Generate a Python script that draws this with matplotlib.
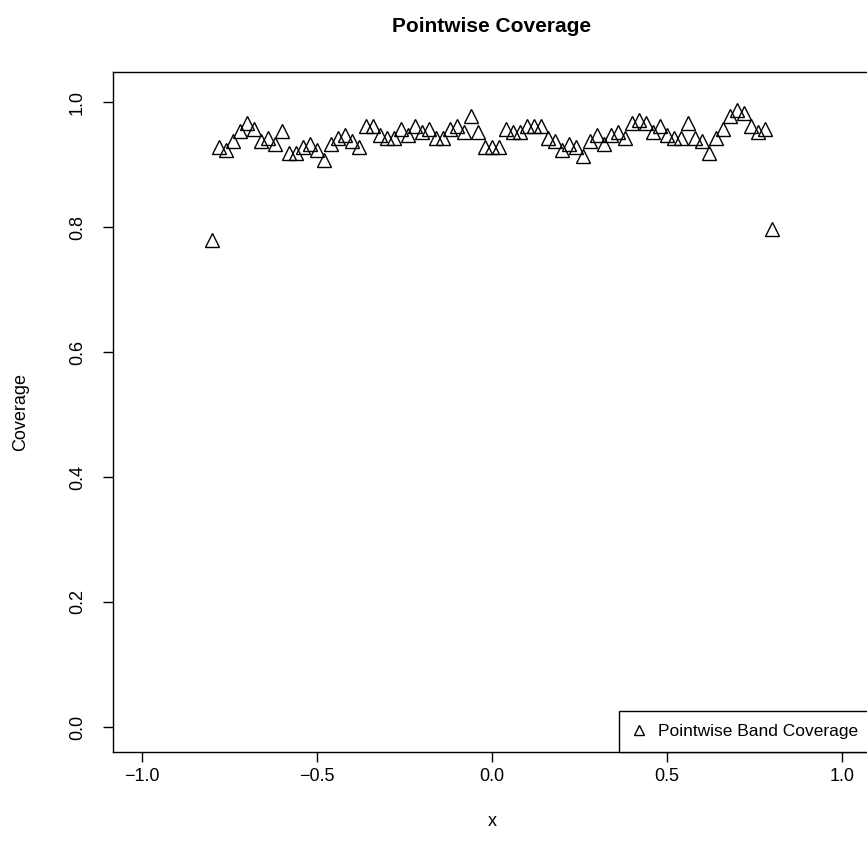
import numpy as np
import matplotlib
matplotlib.use("Agg")
import matplotlib.pyplot as plt

plt.rcParams["font.family"] = ["Liberation Sans", "DejaVu Sans"]

coverage = [
    0.780, 0.928, 0.923, 0.938, 0.953, 0.967, 0.957, 0.938, 0.943, 0.933,
    0.953, 0.918, 0.918, 0.928, 0.933, 0.923, 0.908, 0.933, 0.943, 0.948,
    0.938, 0.928, 0.962, 0.962, 0.948, 0.943, 0.943, 0.957, 0.948, 0.962,
    0.952, 0.957, 0.943, 0.943, 0.957, 0.962, 0.952, 0.977, 0.952, 0.928,
    0.928, 0.928, 0.957, 0.952, 0.952, 0.962, 0.962, 0.962, 0.943, 0.938,
    0.923, 0.933, 0.928, 0.913, 0.938, 0.948, 0.933, 0.948, 0.952, 0.943,
    0.967, 0.972, 0.967, 0.952, 0.962, 0.948, 0.943, 0.943, 0.967, 0.943,
    0.938, 0.918, 0.943, 0.957, 0.977, 0.987, 0.982, 0.962, 0.952, 0.957,
    0.797,
]
x_start, x_end = -0.8, 0.8
x_grid = np.linspace(x_start, x_end, len(coverage))

x_ticks = [-1.0, -0.5, 0.0, 0.5, 1.0]
y_ticks = [0.0, 0.2, 0.4, 0.6, 0.8, 1.0]

fig = plt.figure(figsize=(8.67, 8.61), dpi=100)
W, H = 867, 861
ax = fig.add_axes([113 / W, (H - 752) / H, 758 / W, 680 / H])

ax.plot(x_grid, coverage, linestyle="none", marker="^", markersize=10.5,
        markerfacecolor="none", markeredgecolor="black", markeredgewidth=1.0,
        label="Pointwise Band Coverage")

ax.set_xlim(-1.083, 1.083)
ax.set_ylim(-0.04, 1.048)
ax.set_xticks(x_ticks)
ax.set_xticklabels(["\u22121.0", "\u22120.5", "0.0", "0.5", "1.0"])
ax.set_yticks(y_ticks)
ax.set_yticklabels([f"{v:.1f}" for v in y_ticks], rotation=90, va="center")
ax.tick_params(direction="out", length=7, width=1, labelsize=13)
ax.tick_params(axis="x", pad=4.5)
ax.tick_params(axis="y", pad=12.5)
for s in ax.spines.values():
    s.set_linewidth(1)

ax.set_xlabel("x", fontsize=13)
ax.xaxis.set_label_coords(0.5, -(813 - 752) / 680, transform=ax.transAxes)
ax.set_ylabel("Coverage", fontsize=13)
ax.yaxis.set_label_coords((29 - 113) / 758, 0.5, transform=ax.transAxes)
fig.text(492 / W, 1 - 27 / H, "Pointwise Coverage", ha="center", va="center",
         fontsize=15, fontweight="bold")

leg = ax.legend(loc="lower right", borderaxespad=0, fancybox=False,
                edgecolor="black", framealpha=1, fontsize=12.5,
                handlelength=0.8, handletextpad=0.7, borderpad=0.75,
                markerscale=0.7)
leg.get_frame().set_linewidth(1)

fig.savefig("out.png", dpi=100)
